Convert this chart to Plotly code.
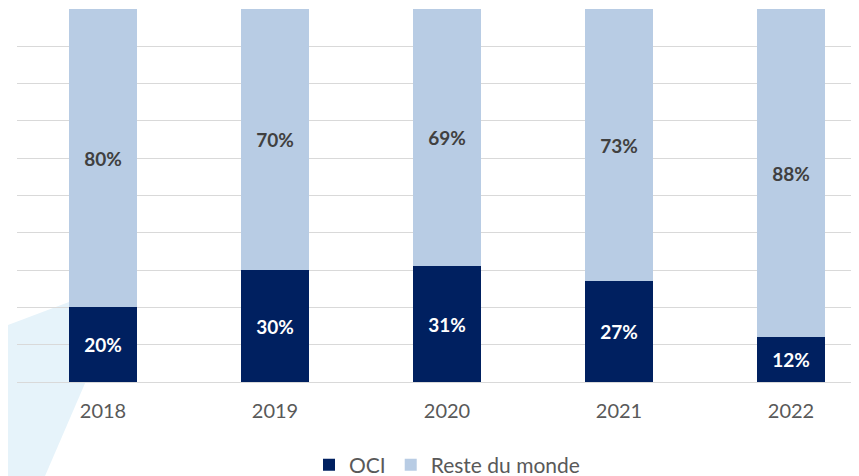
import plotly.graph_objects as go

years = ["2018", "2019", "2020", "2021", "2022"]
oci = [20, 30, 31, 27, 12]
reste = [80, 70, 69, 73, 88]

OFF = 8  # page body margin
W, H = 859 - OFF, 476 - OFF
L, R, T, B = 17 - OFF, 0, 9 - OFF, 94
pw, ph = W - L - R, H - T - B

def px(x):
    return (x - OFF - L) / pw

def py(y):
    return (H - B - (y - OFF)) / ph

fig = go.Figure()
fig.add_trace(go.Bar(
    x=years, y=oci, name="OCI", marker_color="#002060",
    text=[f"{v}%" for v in oci], textposition="inside", insidetextanchor="middle",
    textfont=dict(color="white", size=19, family="Lato", weight="bold"),
    width=0.4, marker_line_width=0))
fig.add_trace(go.Bar(
    x=years, y=reste, name="Reste du monde", marker_color="#B8CCE4",
    text=[f"{v}%" for v in reste], textposition="inside", insidetextanchor="middle",
    textfont=dict(color="#404040", size=19, family="Lato", weight="bold"),
    width=0.4, marker_line_width=0))

pts = [(0, 328), (130, 279), (45, 476), (0, 476)]
path = "M " + " L ".join(f"{px(a):.4f},{py(b):.4f}" for a, b in pts) + " Z"
fig.add_shape(type="path", path=path, xref="paper", yref="paper",
              fillcolor="#E6F3FA", line_width=0, layer="below")

fig.update_layout(
    width=W, height=H, barmode="stack",
    margin=dict(l=L, r=R, t=T, b=B, autoexpand=False),
    paper_bgcolor="white", plot_bgcolor="rgba(0,0,0,0)",
    font=dict(family="Lato", color="#595959"),
    uniformtext=dict(minsize=8, mode="show"),
    legend=dict(orientation="h", x=px(447), xanchor="center", y=py(465), yanchor="middle",
                font=dict(size=21, color="#595959"), itemwidth=30, traceorder="normal",
                bgcolor="rgba(0,0,0,0)"),
    xaxis=dict(range=[-0.5, -0.5 + pw / 172], showgrid=False, showline=False, automargin=False,
               tickfont=dict(size=20, color="#595959"), ticks="", ticklabelstandoff=15),
    yaxis=dict(range=[0, 100], dtick=10, showticklabels=False, gridcolor="#D9D9D9", automargin=False,
               gridwidth=1.3, zeroline=True, zerolinecolor="#D9D9D9", zerolinewidth=1.3),
)

fig.write_html("out.html")
